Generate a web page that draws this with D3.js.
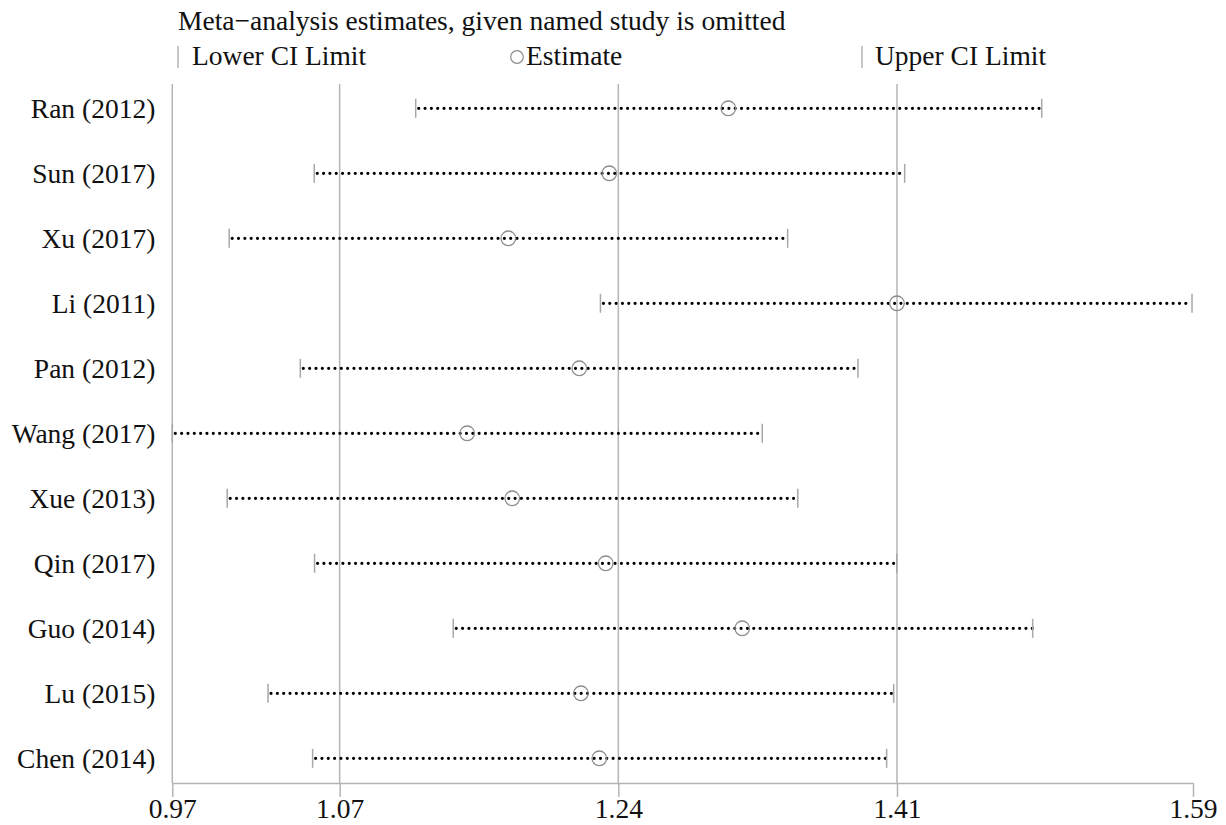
<!DOCTYPE html>
<html>
<head>
<meta charset="utf-8">
<script src="https://cdn.jsdelivr.net/npm/d3@7"></script>
<style>
  html, body { margin: 0; padding: 0; background: #fff; }
  svg { display: block; }
  text { font-family: "Liberation Serif", "Times New Roman", serif; fill: #111; }
</style>
</head>
<body>
<svg id="chart" width="1226" height="825"></svg>
<script>
// ---- data ----
const studies = ["Ran (2012)", "Sun (2017)", "Xu (2017)", "Li (2011)", "Pan (2012)", "Wang (2017)",
                 "Xue (2013)", "Qin (2017)", "Guo (2014)", "Lu (2015)", "Chen (2014)"];
const lowerCI  = [1.1164, 1.0545, 1.0026, 1.2291, 1.0460, 0.9679, 1.0014, 1.0547, 1.1393, 1.0263, 1.0535];
const estimate = [1.3071, 1.2345, 1.1729, 1.4100, 1.2162, 1.1478, 1.1753, 1.2323, 1.3156, 1.2172, 1.2284];
const upperCI  = [1.4983, 1.4147, 1.3433, 1.5900, 1.3862, 1.3278, 1.3495, 1.4099, 1.4928, 1.4080, 1.4037];
const tickValues = [0.9679, 1.07, 1.24, 1.41, 1.5906];
const refLines = [1.07, 1.24, 1.41];
const titleText = "Meta\u2212analysis estimates, given named study is omitted";
const legendLabels = ["Lower CI Limit", "Estimate", "Upper CI Limit"];

const rows = studies.map((s, i) => ({ name: s, lo: lowerCI[i], est: estimate[i], hi: upperCI[i] }));

// ---- layout ----
const FS = 27.5;
const svg = d3.select("#chart");
const plotTop = 84, plotBottom = 783;
const x = d3.scaleLinear().domain([tickValues[0], tickValues[tickValues.length - 1]]).range([172.3, 1193]);
const y = d3.scalePoint().domain(studies).range([108.3, 758.3]);

const gridColor = "#b5b5b5";
const ciColor = "#a8a8a8";
const circColor = "#8c8c8c";

// reference vertical lines
svg.append("g").selectAll("line").data(refLines).join("line")
  .attr("x1", d => x(d)).attr("x2", d => x(d))
  .attr("y1", plotTop).attr("y2", plotBottom)
  .attr("stroke", gridColor).attr("stroke-width", 1.5);

// left axis line
svg.append("line")
  .attr("x1", x.range()[0]).attr("x2", x.range()[0])
  .attr("y1", plotTop).attr("y2", plotBottom)
  .attr("stroke", gridColor).attr("stroke-width", 1.5);

// bottom axis
const xAxis = svg.append("g")
  .attr("transform", `translate(0,${plotBottom})`)
  .call(d3.axisBottom(x).tickValues(tickValues).tickFormat(d3.format(".2f")).tickSize(14).tickSizeOuter(0).tickPadding(0));
xAxis.select(".domain").attr("stroke", gridColor).attr("stroke-width", 1.5);
xAxis.selectAll(".tick line").attr("stroke", gridColor).attr("stroke-width", 1.5);
xAxis.selectAll(".tick text")
  .attr("font-size", FS).attr("font-family", "Liberation Serif").attr("fill", "#111")
  .attr("dy", null).attr("y", 35);

// y labels
const yAxis = svg.append("g")
  .attr("transform", `translate(${x.range()[0]},0)`)
  .call(d3.axisLeft(y).tickSize(0).tickPadding(17));
yAxis.select(".domain").remove();
yAxis.selectAll(".tick text").attr("font-size", FS).attr("font-family", "Liberation Serif").attr("fill", "#111");

// dotted CI lines
svg.append("g").selectAll("line").data(rows).join("line")
  .attr("x1", d => x(d.lo) + 3).attr("x2", d => x(d.hi))
  .attr("y1", d => y(d.name)).attr("y2", d => y(d.name))
  .attr("stroke", "#000").attr("stroke-width", 3.2)
  .attr("stroke-linecap", "round").attr("stroke-dasharray", "0,6.33");

// lower / upper CI ticks
const ciG = svg.append("g");
ciG.selectAll("line.lo").data(rows).join("line").attr("class", "lo")
  .attr("x1", d => x(d.lo)).attr("x2", d => x(d.lo))
  .attr("y1", d => y(d.name) - 9.5).attr("y2", d => y(d.name) + 9.5)
  .attr("stroke", ciColor).attr("stroke-width", 1.5);
ciG.selectAll("line.hi").data(rows).join("line").attr("class", "hi")
  .attr("x1", d => x(d.hi)).attr("x2", d => x(d.hi))
  .attr("y1", d => y(d.name) - 9.5).attr("y2", d => y(d.name) + 9.5)
  .attr("stroke", ciColor).attr("stroke-width", 1.5);

// estimate circles
svg.append("g").selectAll("circle").data(rows).join("circle")
  .attr("cx", d => x(d.est)).attr("cy", d => y(d.name)).attr("r", 7.3)
  .attr("fill", "none").attr("stroke", circColor).attr("stroke-width", 1.3);

// title
svg.append("text").attr("x", 178).attr("y", 30).attr("font-size", FS).text(titleText);

// legend
const legY = 65;
svg.append("line").attr("x1", 178).attr("x2", 178).attr("y1", 46).attr("y2", 68)
  .attr("stroke", ciColor).attr("stroke-width", 1.3);
svg.append("text").attr("x", 192).attr("y", legY).attr("font-size", FS).text(legendLabels[0]);
svg.append("circle").attr("cx", 517).attr("cy", 57).attr("r", 6.3)
  .attr("fill", "none").attr("stroke", circColor).attr("stroke-width", 1.2);
svg.append("text").attr("x", 526).attr("y", legY).attr("font-size", FS).text(legendLabels[1]);
svg.append("line").attr("x1", 862).attr("x2", 862).attr("y1", 46).attr("y2", 68)
  .attr("stroke", ciColor).attr("stroke-width", 1.3);
svg.append("text").attr("x", 875).attr("y", legY).attr("font-size", FS).text(legendLabels[2]);
</script>
</body>
</html>
